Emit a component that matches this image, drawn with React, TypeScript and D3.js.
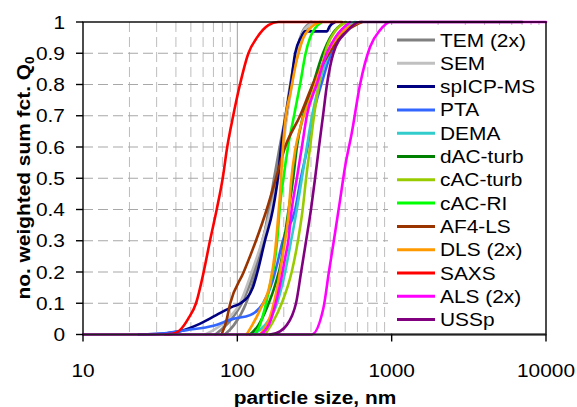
import React from 'react';
import * as d3 from 'd3';

type P = [number, number];

// axis ticks
const xTicks = [10, 100, 1000, 10000];
const xTickLabels = ['10', '100', '1000', '10000'];
const yTicks = [0, 0.1, 0.2, 0.3, 0.4, 0.5, 0.6, 0.7, 0.8, 0.9, 1];
const yTickLabels = ['0', '0.1', '0.2', '0.3', '0.4', '0.5', '0.6', '0.7', '0.8', '0.9', '1'];

// series data: [particle size nm, Q0]
const temA: P[] = [[72,0],[92,0.05],[107,0.1],[128,0.2],[145,0.3],[163,0.4],[178,0.5],[192,0.6],[209,0.7],[223,0.8],[248,0.9],[275,0.97],[300,1]];
const temB: P[] = [[83,0],[95,0.03],[114,0.1],[132,0.2],[147,0.3],[160,0.4],[173,0.5],[188,0.6],[205,0.7],[220,0.8],[240,0.9],[265,0.97],[305,1]];
const sem: P[] = [[62,0],[87,0.05],[104,0.1],[124,0.2],[145,0.3],[165,0.4],[184,0.5],[198,0.6],[210,0.7],[226,0.8],[244,0.9],[267,0.97],[319,1]];
const spicp: P[] = [[23,0],[35,0.004],[42,0.01],[57,0.034],[73,0.062],[94,0.09],[105,0.1],[126,0.15],[135,0.2],[151,0.3],[170,0.4],[183,0.5],[192,0.6],[206,0.7],[222,0.8],[237,0.9],[258,0.95],[275,0.97],[381,0.97],[395,0.985],[430,1]];
const pta: P[] = [[23,0],[35,0.005],[47,0.014],[70,0.028],[94,0.05],[121,0.062],[147,0.1],[170,0.174],[180,0.22],[197,0.3],[237,0.4],[258,0.5],[285,0.6],[309,0.7],[350,0.8],[405,0.9],[499,0.97],[587,1]];
const dema: P[] = [[121,0],[151,0.03],[181,0.1],[204,0.2],[223,0.3],[243,0.4],[262,0.5],[282,0.6],[305,0.7],[338,0.8],[393,0.9],[480,0.97],[579,1]];
const dacTurb: P[] = [[121,0],[137,0.03],[155,0.084],[176,0.16],[194,0.244],[201,0.3],[215,0.4],[230,0.5],[243,0.6],[267,0.7],[309,0.8],[359,0.9],[399,0.95],[499,1]];
const cacTurb: P[] = [[151,0],[170,0.04],[194,0.1],[225,0.2],[247,0.3],[265,0.4],[279,0.5],[296,0.6],[314,0.7],[338,0.8],[370,0.9],[430,0.97],[506,1]];
const cacRi: P[] = [[130,0],[140,0.03],[151,0.085],[163,0.16],[176,0.245],[182,0.31],[188,0.4],[199,0.5],[213,0.6],[233,0.7],[255,0.8],[277,0.9],[296,0.95],[319,0.98],[354,1]];
const af4: P[] = [[79,0],[84.5,0.04],[90,0.1],[110,0.2],[132,0.3],[155,0.4],[178,0.5],[204,0.6],[255,0.7],[308,0.8],[393,0.9],[463,0.95],[538,0.98],[643,1]];
const dlsA: P[] = [[115,0],[140,0.078],[163,0.164],[176,0.27],[184,0.377],[191,0.48],[195,0.56],[205,0.69],[220,0.77],[243,0.88],[268,0.95],[296,0.98],[344,1]];
const dlsB: P[] = [[140,0],[163,0.057],[180,0.142],[199,0.27],[214,0.377],[223,0.49],[237,0.59],[255,0.66],[311,0.78],[361,0.874],[441,0.95],[512,0.98],[624,1]];
const saxs: P[] = [[34,0],[38,0.002],[43.6,0.02],[48,0.05],[54,0.1],[60.5,0.2],[66.5,0.3],[73.5,0.4],[80.4,0.5],[86,0.6],[94,0.7],[104,0.8],[118,0.9],[134,0.95],[159,0.99],[184,1],[476,1]];
const alsA: P[] = [[142,0],[163,0.04],[176,0.094],[189,0.158],[204,0.245],[214,0.3],[225,0.4],[243,0.5],[262,0.6],[282,0.7],[327,0.8],[380,0.9],[430,0.95],[538,1]];
const alsB: P[] = [[10,0],[303,0],[361,0.084],[392,0.2],[422,0.3],[463,0.43],[499,0.537],[551,0.644],[624,0.8],[724,0.92],[841,0.974],[977,1],[10000,1]];
const ussp: P[] = [[163,0],[189,0.01],[209,0.03],[226,0.06],[240,0.1],[259,0.2],[279,0.3],[300,0.4],[319,0.5],[338,0.6],[359,0.7],[381,0.8],[419,0.9],[512,0.97],[624,1],[7000,1]];

const legendNames = ['TEM (2x)', 'SEM', 'spICP-MS', 'PTA', 'DEMA', 'dAC-turb', 'cAC-turb', 'cAC-RI', 'AF4-LS', 'DLS (2x)', 'SAXS', 'ALS (2x)', 'USSp'];
const legendColors = ['#808080', '#C0C0C0', '#000080', '#3366FF', '#33CCCC', '#008000', '#99CC00', '#00FF00', '#993300', '#FF9900', '#FF0000', '#FF00FF', '#800080'];
const seriesData: P[][][] = [[temA, temB], [sem], [spicp], [pta], [dema], [dacTurb], [cacTurb], [cacRi], [af4], [dlsA, dlsB], [saxs], [alsA, alsB], [ussp]];

const FONT = '"Liberation Sans", Arial, Helvetica, sans-serif';
const SX = 1.13;

function T(props: { x: number; y: number; anchor?: string; size?: number; weight?: string; rotate?: boolean; children: React.ReactNode }) {
  const { x, y, anchor = 'start', size = 18.5, weight = 'normal', rotate = false, children } = props;
  return (
    <text
      transform={`translate(${x},${y})${rotate ? ' rotate(-90)' : ''} scale(${SX},1)`}
      textAnchor={anchor}
      fontSize={size}
      fontWeight={weight}
      fontFamily={FONT}
      fill="#000"
    >
      {children}
    </text>
  );
}

export default function App() {
  const L = 83, R = 546, TOP = 22, B = 334.5;
  const x = d3.scaleLog().domain([10, 10000]).range([L, R]);
  const y = d3.scaleLinear().domain([0, 1]).range([B, TOP]);
  const line = d3
    .line<P>()
    .x((d) => x(d[0]))
    .y((d) => y(d[1]))
    .curve(d3.curveMonotoneX);

  const minor: number[] = [];
  [10, 100, 1000].forEach((dec) => {
    for (let k = 2; k <= 9; k++) minor.push(k * dec);
  });

  const legX = 388, legY = 25, legW = 157, legH = 308;
  const rowStep = 23.3;
  const row0 = 40;

  return (
    <svg width={577} height={407} style={{ position: 'absolute', left: 0, top: 0, background: '#fff' }}>
      <rect x={0} y={0} width={577} height={407} fill="#fff" />
      {/* grid */}
      {minor.map((v) => (
        <line key={'mv' + v} x1={x(v)} x2={x(v)} y1={TOP} y2={B} stroke="#BDBDBD" strokeWidth={1} strokeDasharray="10,5" />
      ))}
      {[100, 1000].map((v) => (
        <line key={'dv' + v} x1={x(v)} x2={x(v)} y1={TOP} y2={B} stroke="#A0A0A0" strokeWidth={1} />
      ))}
      {yTicks.slice(1, -1).map((v) => (
        <line key={'hg' + v} x1={L} x2={R} y1={y(v)} y2={y(v)} stroke="#A8A8A8" strokeWidth={1.2} strokeDasharray="10,5" />
      ))}
      {/* series */}
      {seriesData.map((group, i) =>
        group.map((d, j) => (
          <path
            key={'s' + i + '_' + j}
            d={line(d) || ''}
            fill="none"
            stroke={legendColors[i]}
            strokeWidth={2.6}
            strokeLinejoin="round"
            strokeLinecap="round"
          />
        ))
      )}
      {/* frame */}
      <rect x={L} y={TOP} width={R - L} height={B - TOP} fill="none" stroke="#000" strokeWidth={1.4} />
      <line x1={L} x2={R} y1={B} y2={B} stroke="#222" strokeWidth={2} />
      {/* y ticks */}
      {yTicks.map((v, i) => (
        <g key={'yt' + v}>
          <line x1={L - 7} x2={L} y1={y(v)} y2={y(v)} stroke="#000" strokeWidth={1.4} />
          <T x={65} y={y(v) + 6.7} anchor="end">
            {yTickLabels[i]}
          </T>
        </g>
      ))}
      {/* x ticks */}
      {xTicks.map((v, i) => (
        <g key={'xt' + v}>
          <line x1={x(v)} x2={x(v)} y1={B} y2={B + 7} stroke="#000" strokeWidth={1.4} />
          <T x={x(v)} y={377} anchor="middle">
            {xTickLabels[i]}
          </T>
        </g>
      ))}
      {/* axis titles */}
      <T x={315} y={404} anchor="middle" weight="bold">
        particle size, nm
      </T>
      <T x={30} y={178} anchor="middle" weight="bold" rotate>
        no. weighted sum fct. Q
        <tspan fontSize={12} dy={4}>0</tspan>
      </T>
      {/* legend */}
      <rect x={legX} y={legY} width={legW} height={legH} fill="#fff" />
      {legendNames.map((n, i) => {
        const cy = row0 + i * rowStep;
        return (
          <g key={'lg' + i}>
            <line x1={397} x2={435} y1={cy} y2={cy} stroke={legendColors[i]} strokeWidth={3} />
            <T x={440} y={cy + 6.5}>
              {n}
            </T>
          </g>
        );
      })}
    </svg>
  );
}
